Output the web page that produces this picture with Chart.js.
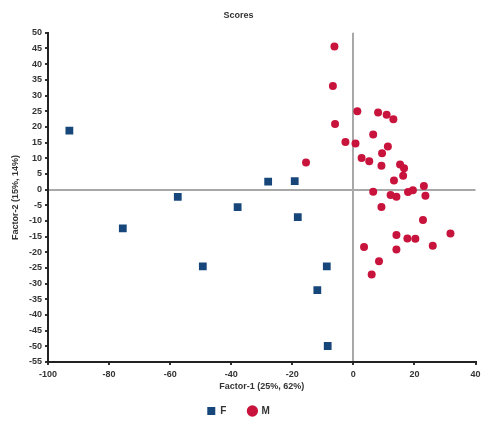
<!DOCTYPE html>
<html lang="en">
<head>
<meta charset="UTF-8">
<title>Scores</title>
<script src="https://cdn.jsdelivr.net/npm/chart.js"></script>
<style>
  html, body { margin: 0; padding: 0; background: #fff; }
  #wrap { width: 481px; height: 428px; }
</style>
</head>
<body>
<div id="wrap"><canvas id="grafico" width="481" height="428"></canvas></div>
<script>
// Group F (blue squares)
const fX = [-93, -75.5, -57.5, -49.3, -37.9, -27.9, -19.2, -18.2, -8.7, -11.8, -8.4];
const fY = [18.8, -12.4, -2.3, -24.5, -5.6, 2.5, 2.7, -8.8, -24.5, -32.1, -49.9];

// Group M (red circles)
const mX = [-6.2, -6.7, 1.3, 8.1, 10.9, 13.1, -6.0, 6.5, -2.6, 0.7, 11.3, 9.4, 2.7, 5.2, 9.2, 15.3, 16.6, -15.5, 16.3, 13.3, 23.1,
            6.5, 12.2, 14.1, 17.9, 19.5, 23.6, 9.2, 22.8, 31.8, 14.1, 17.7, 20.3, 3.5, 14.1, 26.0, 8.4, 6.0];
const mY = [45.6, 33.0, 25.0, 24.6, 23.9, 22.4, 20.9, 17.6, 15.2, 14.7, 13.7, 11.6, 10.1, 9.0, 7.6, 8.0, 6.8, 8.6, 4.4, 2.9, 1.1,
            -0.7, -1.7, -2.3, -0.8, -0.2, -2.0, -5.6, -9.7, -14.0, -14.5, -15.6, -15.7, -18.3, -19.1, -17.9, -22.9, -27.1];

const groups = ['F', 'M'];

function toPoints(xs, ys) {
    return xs.map((x, i) => ({ x: x, y: ys[i] }));
}

const tickFont = { family: 'Liberation Sans, Arial, sans-serif', size: 9, weight: 'bold' };
const zeroLine = (ctx) => (ctx.tick && ctx.tick.value === 0) ? '#a8a8a8' : 'rgba(0,0,0,0)';

new Chart(document.getElementById('grafico'), {
    type: 'scatter',
    data: {
        datasets: [{
            label: groups[0],
            data: toPoints(fX, fY),
            pointStyle: 'rect',
            pointRadius: 5.5,
            backgroundColor: '#17477a',
            borderColor: '#17477a',
            borderWidth: 0
        }, {
            label: groups[1],
            data: toPoints(mX, mY),
            pointStyle: 'circle',
            pointRadius: 4,
            backgroundColor: '#c8143c',
            borderColor: '#c8143c',
            borderWidth: 0
        }]
    },
    options: {
        responsive: false,
        animation: false,
        layout: { padding: { left: 0, right: 4, top: 0, bottom: 2 } },
        plugins: {
            title: {
                display: true,
                text: 'Scores',
                color: '#333',
                font: { family: 'Liberation Sans, Arial, sans-serif', size: 9, weight: 'bold' },
                padding: { top: 10, bottom: 12 }
            },
            legend: {
                display: true,
                position: 'bottom',
                labels: {
                    usePointStyle: true,
                    boxWidth: 8,
                    boxHeight: 8,
                    padding: 22,
                    color: '#333',
                    font: { family: 'Liberation Sans, Arial, sans-serif', size: 10, weight: 'bold' }
                }
            },
            tooltip: { enabled: false }
        },
        scales: {
            x: {
                type: 'linear',
                min: -100,
                max: 40,
                ticks: { stepSize: 20, color: '#333', font: tickFont, padding: 4 },
                grid: { color: zeroLine, lineWidth: 2, tickColor: '#333', tickLength: 3 },
                border: { color: '#222', width: 2 },
                title: {
                    display: true,
                    text: 'Factor-1 (25%, 62%)',
                    color: '#333',
                    font: { family: 'Liberation Sans, Arial, sans-serif', size: 9, weight: 'bold' },
                    padding: { top: 0, bottom: -8 }
                },
                afterFit: (scale) => {
                    scale.height = 22;
                    // the last label runs off the edge, as in the original
                    scale.paddingLeft = 0;
                    scale.paddingRight = 0;
                }
            },
            y: {
                type: 'linear',
                min: -55,
                max: 50,
                ticks: { stepSize: 5, color: '#333', font: tickFont, padding: 3 },
                grid: { color: zeroLine, lineWidth: 2, tickColor: '#333', tickLength: 3 },
                border: { color: '#222', width: 2 },
                title: {
                    display: true,
                    text: 'Factor-2 (15%, 14%)',
                    color: '#333',
                    font: { family: 'Liberation Sans, Arial, sans-serif', size: 9, weight: 'bold' },
                    padding: { top: 10, bottom: 0 }
                },
                afterFit: (scale) => { scale.width = 48; }
            }
        }
    }
});
</script>
</body>
</html>
